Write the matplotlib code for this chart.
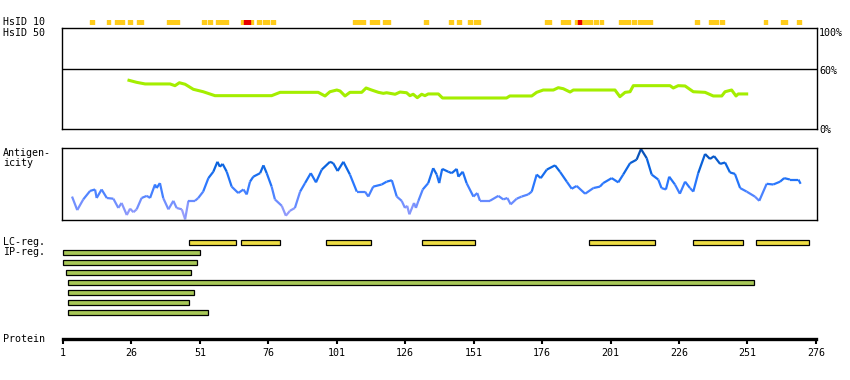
import numpy as np
import matplotlib
matplotlib.use("Agg")
from matplotlib import pyplot as plt
from matplotlib.collections import LineCollection
from matplotlib.colors import LinearSegmentedColormap

# HsID 10 track: residue spans (start, end)
hsid10_orange = [(10.9, 12.3), (17.1, 18.2), (20.0, 23.3), (24.7, 26.2), (28.0, 30.2),
                 (39.1, 43.5), (51.8, 53.2), (54.0, 55.4), (56.9, 61.3), (66.0, 67.1),
                 (69.3, 70.4), (71.9, 73.3), (74.1, 76.2), (77.0, 78.4), (106.9, 111.3),
                 (113.1, 116.4), (117.9, 120.4), (132.9, 134.3), (142.0, 143.4), (144.9, 146.4),
                 (148.9, 150.4), (151.1, 153.3), (177.0, 179.2), (182.9, 186.2), (188.0, 189.1),
                 (190.2, 194.2), (194.9, 196.4), (197.1, 198.2), (204.2, 208.2), (208.9, 210.4),
                 (211.1, 216.2), (231.9, 233.4), (237.0, 240.3), (241.1, 242.5), (257.1, 258.2),
                 (263.1, 265.3), (269.0, 270.4)]
hsid10_red = [(67.1, 69.3), (189.1, 190.2)]

# HsID 50 identity (%)
hsid50_pos = [25.1, 27.9, 31.0, 40.1, 41.9, 43.5, 45.6, 48.6, 52.2, 56.5, 77.2, 80.3, 94.2,
              96.7, 98.5, 101.0, 102.2, 104.0, 105.8, 110.1, 111.7, 113.7, 116.2, 118.0, 119.2,
              122.3, 124.1, 126.5, 127.7, 128.9, 130.4, 132.0, 133.2, 134.4, 138.1, 139.6, 163.0,
              164.2, 172.2, 174.0, 176.4, 180.1, 181.9, 183.7, 186.2, 187.4, 202.6, 204.4, 206.3,
              208.1, 209.3, 222.7, 223.9, 225.7, 228.2, 231.2, 235.5, 238.5, 241.6, 242.8, 245.2,
              246.8, 247.6, 250.7]
hsid50_val = [48.5, 46.5, 44.9, 44.9, 43.2, 46.1, 44.6, 39.6, 37.2, 33.3, 33.3, 36.6, 36.6,
              33.0, 37.2, 38.9, 37.9, 33.0, 36.6, 36.6, 40.9, 38.9, 36.6, 35.6, 36.2,
              34.7, 36.9, 36.2, 33.3, 34.7, 31.3, 34.7, 33.3, 35.0, 35.0, 31.0, 31.0,
              33.0, 33.0, 36.6, 38.9, 38.9, 41.2, 40.2, 36.9, 38.9, 38.9, 32.3, 36.6,
              37.2, 43.2, 43.2, 40.9, 43.2, 42.9, 37.2, 36.6, 33.0, 33.0, 37.2, 38.9,
              33.0, 35.0, 35.0]

# antigenicity (relative score 0..1)
ag_pos = [4.3, 6.2, 8.4, 10.9, 12.7, 13.3, 15.1, 17.0, 19.4, 21.2, 22.4, 24.3, 25.5, 26.7,
          27.9, 29.7, 31.6, 32.8, 34.6, 35.2, 36.4, 37.6, 39.5, 41.3, 42.5, 44.4, 45.6, 46.8,
          49.2, 50.4, 52.2, 54.1, 55.9, 57.4, 58.3, 59.3, 60.8, 62.6, 65.0, 66.9, 68.1, 69.3,
          70.5, 73.0, 74.2, 75.4, 77.2, 78.4, 80.9, 82.4, 83.9, 85.7, 87.6, 89.4, 91.5, 93.4,
          95.5, 98.5, 99.7, 101.3, 103.4, 105.8, 108.3, 111.3, 112.5, 114.3, 117.4, 119.2,
          121.1, 122.9, 124.7, 125.9, 126.7, 127.5, 129.2, 129.9, 130.8, 132.4, 134.4, 136.2,
          137.5, 138.4, 139.5, 141.7, 143.0, 144.8, 145.4, 147.0, 148.4, 150.9, 152.3, 153.3,
          156.9, 160.0, 161.8, 163.3, 164.5, 166.7, 168.5, 170.9, 172.2, 174.0, 175.5, 177.7,
          180.7, 182.5, 185.0, 186.8, 188.6, 191.7, 194.7, 197.1, 198.3, 201.4, 203.8, 205.6,
          208.1, 210.5, 212.1, 214.2, 216.0, 218.4, 219.6, 221.2, 222.4, 224.5, 226.3, 228.2,
          230.0, 231.2, 233.0, 235.5, 237.3, 238.8, 241.0, 242.8, 244.6, 246.4, 248.3, 250.7,
          253.7, 255.3, 258.0, 260.4, 262.9, 264.4, 266.5, 269.6, 270.4]
ag_val = [0.32, 0.13, 0.28, 0.40, 0.42, 0.30, 0.42, 0.30, 0.29, 0.16, 0.23, 0.06, 0.15, 0.10,
          0.14, 0.30, 0.33, 0.30, 0.49, 0.44, 0.51, 0.30, 0.14, 0.26, 0.16, 0.14, 0.00, 0.26,
          0.26, 0.30, 0.39, 0.58, 0.67, 0.81, 0.74, 0.78, 0.67, 0.46, 0.37, 0.42, 0.35, 0.53,
          0.60, 0.65, 0.76, 0.65, 0.46, 0.28, 0.19, 0.05, 0.12, 0.16, 0.39, 0.51, 0.65, 0.52,
          0.70, 0.81, 0.79, 0.68, 0.81, 0.63, 0.39, 0.39, 0.32, 0.46, 0.49, 0.53,
          0.55, 0.32, 0.26, 0.16, 0.19, 0.07, 0.23, 0.16, 0.26, 0.42, 0.51, 0.72,
          0.63, 0.51, 0.71, 0.67, 0.65, 0.71, 0.60, 0.67, 0.51, 0.32, 0.37, 0.26,
          0.26, 0.33, 0.28, 0.30, 0.21, 0.29, 0.32, 0.35, 0.39, 0.63, 0.58, 0.70,
          0.76, 0.67, 0.53, 0.43, 0.47, 0.36, 0.44, 0.46, 0.51, 0.58, 0.52, 0.63,
          0.79, 0.84, 0.99, 0.86, 0.63, 0.56, 0.44, 0.42, 0.60, 0.49, 0.36, 0.53,
          0.44, 0.39, 0.65, 0.92, 0.85, 0.89, 0.78, 0.80, 0.66, 0.64, 0.44, 0.39,
          0.32, 0.26, 0.50, 0.49, 0.53, 0.58, 0.56, 0.56, 0.50]

# low complexity regions and interpro regions
lc_start = [47.1, 66.1, 97.1, 132.1, 193.2, 231.2, 254.2]
lc_end = [64.1, 80.1, 113.5, 151.5, 217.1, 249.2, 273.3]
ip_start = [1.1, 1.1, 2.0, 2.9, 2.9, 2.9, 2.9]
ip_end = [51.1, 50.0, 47.9, 253.3, 49.0, 47.1, 54.1]

protein_ticks = [1, 26, 51, 76, 101, 126, 151, 176, 201, 226, 251, 276]

W, H = 850, 380
fig = plt.figure(figsize=(8.5, 3.8), dpi=100)
FONT = dict(family="DejaVu Sans Mono", fontsize=7.2)


def px_axes(x0, y0, x1, y1):
    return fig.add_axes([x0 / W, 1 - y1 / H, (x1 - x0) / W, (y1 - y0) / H])


def label(x, y, s, **kw):
    fig.text(x / W, 1 - y / H, s, va="baseline", **FONT, **kw)


X0, X1 = 62, 817
XLIM = (1 + (X0 - 63) / 2.738, 1 + (X1 - 63) / 2.738)

# HsID 10
ax10 = px_axes(X0, 19.7, X1, 24.7)
ax10.set_xlim(XLIM)
ax10.set_ylim(0, 1)
ax10.broken_barh([(s, e - s) for s, e in hsid10_orange], (0, 1), color="#ffcc1a")
ax10.broken_barh([(s, e - s) for s, e in hsid10_red], (0, 1), color="#e80000")
ax10.axis("off")

# HsID 50
ax50 = px_axes(X0, 28.3, X1, 129.3)
ax50.set_xlim(XLIM)
ax50.set_ylim(0, 100)
ax50.axhline(60, color="black", lw=1)
ax50.plot(hsid50_pos, hsid50_val, color="#a4ee00", lw=2.2)
ax50.set_xticks([])
ax50.set_yticks([])

# antigenicity
axag = px_axes(X0, 148.3, X1, 220)
axag.set_xlim(XLIM)
axag.set_ylim(-0.01, 1.0)
pts = np.column_stack([ag_pos, ag_val])
segs = np.stack([pts[:-1], pts[1:]], axis=1)
cmap = LinearSegmentedColormap.from_list("ag", ["#aaa4f8", "#6a8cff", "#2a78ff", "#0a64e0", "#0a4ca8"])
mid = (np.array(ag_val[:-1]) + np.array(ag_val[1:])) / 2
lc = LineCollection(segs, colors=cmap(mid), linewidths=1.6)
axag.add_collection(lc)
axag.set_xticks([])
axag.set_yticks([])

for ax in (ax50, axag):
    for sp in ax.spines.values():
        sp.set_linewidth(1.0)

# regions
axr = px_axes(X0, 236, X1, 320)
axr.set_xlim(XLIM)
axr.set_ylim(7.75, -0.65)
axr.barh([0] * len(lc_start), np.array(lc_end) - np.array(lc_start), left=lc_start,
         height=0.45, color="#eedd44", edgecolor="black", lw=0.9)
axr.barh(np.arange(1, len(ip_start) + 1), np.array(ip_end) - np.array(ip_start), left=ip_start,
         height=0.45, color="#a8c858", edgecolor="black", lw=0.9)
axr.axis("off")

# protein axis
axp = px_axes(X0, 300, X1, 338.7)
axp.set_xlim(XLIM)
axp.patch.set_alpha(0)
for k in ("top", "left", "right"):
    axp.spines[k].set_visible(False)
axp.spines["bottom"].set_linewidth(2.4)
axp.spines["bottom"].set_bounds(1, 276)
axp.set_yticks([])
axp.set_xticks(protein_ticks)
axp.tick_params(axis="x", length=3.5, width=1.5, pad=3.5, labelsize=7.2)
for t in axp.get_xticklabels():
    t.set_family("DejaVu Sans Mono")

# text labels
label(3, 25.3, "HsID 10")
label(3, 35.8, "HsID 50")
label(3, 156, "Antigen-")
label(3, 165.5, "icity")
label(3, 245, "LC-reg.")
label(3, 255, "IP-reg.")
label(3, 342.5, "Protein")
label(819, 36, "100%")
label(819, 74, "60%")
label(819, 133.3, "0%")

plt.savefig("out.png", dpi=100)
plt.close()
